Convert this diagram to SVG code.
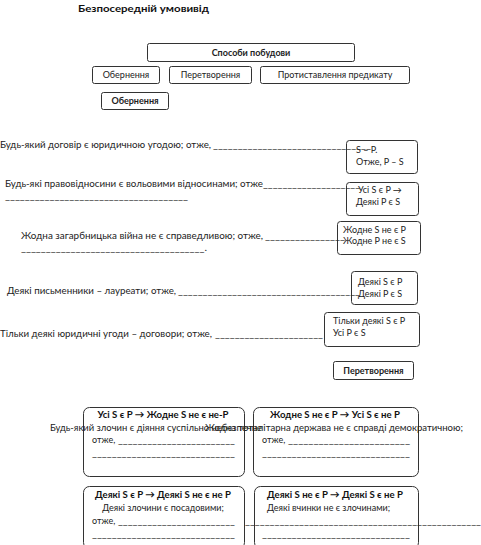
<svg xmlns="http://www.w3.org/2000/svg" width="481" height="545" viewBox="0 0 481 545">
<style>
text{font-family:Lato,"Noto Sans","DejaVu Sans",sans-serif;font-size:9px;fill:#222}
.b{font-weight:bold}
.h{font-size:9.6px;font-weight:bold;fill:#111}
.t{font-size:10px;font-weight:bold;fill:#111}
.m{text-anchor:middle}
rect{fill:#fff;stroke:#333;stroke-width:1}
</style>
<rect x="0" y="0" width="481" height="545" style="fill:#fff;stroke:none"/>
<text class="t" x="78" y="12" textLength="131" lengthAdjust="spacingAndGlyphs">Безпосередній умовивід</text>
<g id="n-sposoby"><rect x="147.5" y="43.5" width="207" height="18" rx="2"/><text class="b m" x="251" y="56">Способи побудови</text></g>
<g id="n-obern"><rect x="92.5" y="66.5" width="67" height="17" rx="2"/><text class="m" x="126" y="78">Обернення</text></g>
<g id="n-peretv"><rect x="169.5" y="66.5" width="82" height="17" rx="2"/><text class="m" x="210.5" y="78">Перетворення</text></g>
<g id="n-protyst"><rect x="260.5" y="66.5" width="149" height="17" rx="2"/><text class="m" x="335" y="78">Протиставлення предикату</text></g>
<g id="n-obern2"><rect x="101.5" y="92.5" width="67" height="17" rx="2"/><text class="b m" x="135" y="104">Обернення</text></g>

<g id="n-box1"><rect x="346.5" y="140.5" width="71" height="33" rx="3"/><text x="356" y="153">S – P.</text><text x="356" y="165">Отже, P – S</text></g>
<g id="n-box2"><rect x="346.5" y="182.5" width="72" height="33" rx="3"/><text x="358" y="193">Усі S є P →</text><text x="356" y="205">Деякі P є S</text></g>
<g id="n-box3"><rect x="337.5" y="221.5" width="83" height="33" rx="3"/><text x="343" y="233">Жодне S не є P</text><text x="343" y="244">Жодне P не є S</text></g>
<g id="n-box4"><rect x="351.5" y="271.5" width="66" height="33" rx="3"/><text x="358" y="285">Деякі S є P</text><text x="358" y="297">Деякі P є S</text></g>
<g id="n-box5"><rect x="324.5" y="312.5" width="95" height="34" rx="3"/><text x="333" y="324">Тільки деякі S є P</text><text x="333" y="336">Усі P є S</text></g>

<g id="connectors">
<text x="0" y="148" textLength="211" lengthAdjust="spacingAndGlyphs">Будь-який договір є юридичною угодою; отже,</text>
<text x="213" y="148" textLength="158" lengthAdjust="spacingAndGlyphs">________________________________</text>
<text x="5" y="187" textLength="258" lengthAdjust="spacingAndGlyphs">Будь-які правовідносини є вольовими відносинами; отже</text>
<text x="263" y="187" textLength="97" lengthAdjust="spacingAndGlyphs">____________________</text>
<text x="5" y="199" textLength="183" lengthAdjust="spacingAndGlyphs">_____________________________________</text>
<text x="21" y="239" textLength="242" lengthAdjust="spacingAndGlyphs">Жодна загарбницька війна не є справедливою; отже,</text>
<text x="265" y="239" textLength="80" lengthAdjust="spacingAndGlyphs">________________</text>
<text x="21" y="251" textLength="186" lengthAdjust="spacingAndGlyphs">_____________________________________.</text>
<text x="7" y="294" textLength="169" lengthAdjust="spacingAndGlyphs">Деякі письменники – лаурeати; отже,</text>
<text x="178" y="294" textLength="182" lengthAdjust="spacingAndGlyphs">_____________________________________</text>
<text x="0" y="337" textLength="212" lengthAdjust="spacingAndGlyphs">Тільки деякі юридичні угоди – договори;  отже,</text>
<text x="215" y="337" textLength="108" lengthAdjust="spacingAndGlyphs">______________________</text>
</g>

<g id="n-peretv2"><rect x="333.5" y="361.5" width="80" height="18" rx="2"/><text class="b m" x="373.5" y="374">Перетворення</text></g>

<g id="n-boxA"><rect x="83.5" y="407.5" width="161" height="69" rx="6"/>
<text class="h m" x="163" y="418">Усі S є P → Жодне S не є не-P</text>
<text x="92" y="443">отже,</text>
<text x="118" y="443" textLength="117" lengthAdjust="spacingAndGlyphs">________________________</text>
<text x="92" y="456" textLength="143" lengthAdjust="spacingAndGlyphs">_____________________________</text></g>
<g id="n-boxB"><rect x="253.5" y="407.5" width="165" height="69" rx="6"/>
<text class="h m" x="335" y="418">Жодне S не є P → Усі S є не P</text>
<text x="262" y="443">отже,</text>
<text x="288" y="443" textLength="122" lengthAdjust="spacingAndGlyphs">________________________</text>
<text x="262" y="456" textLength="148" lengthAdjust="spacingAndGlyphs">______________________________</text></g>
<g id="n-boxC"><rect x="83.5" y="486.5" width="161" height="62" rx="6"/>
<text class="h m" x="163" y="498">Деякі S є P → Деякі S не є не P</text>
<text class="m" x="163" y="511">Деякі злочини є посадовими;</text>
<text x="92" y="524">отже,</text>
<text x="118" y="524" textLength="117" lengthAdjust="spacingAndGlyphs">________________________</text>
<text x="92" y="537" textLength="143" lengthAdjust="spacingAndGlyphs">_____________________________</text></g>
<g id="n-boxD"><rect x="254.5" y="486.5" width="164" height="62" rx="6"/>
<text class="h m" x="335" y="498">Деякі S не є P → Деякі S є не P</text>
<text x="267" y="511">Деякі вчинки не є злочинами;</text>
<text x="262" y="537" textLength="148" lengthAdjust="spacingAndGlyphs">______________________________</text></g>
<text x="245" y="524" textLength="236" lengthAdjust="spacingAndGlyphs">________________________________________________</text>
<text x="50" y="431" textLength="212" lengthAdjust="spacingAndGlyphs">Будь-який злочин є діяння суспільно небезпечне</text>
<text x="205" y="431" textLength="258" lengthAdjust="spacingAndGlyphs">Жодна тоталітарна держава не є справді демократичною;</text>
</svg>
